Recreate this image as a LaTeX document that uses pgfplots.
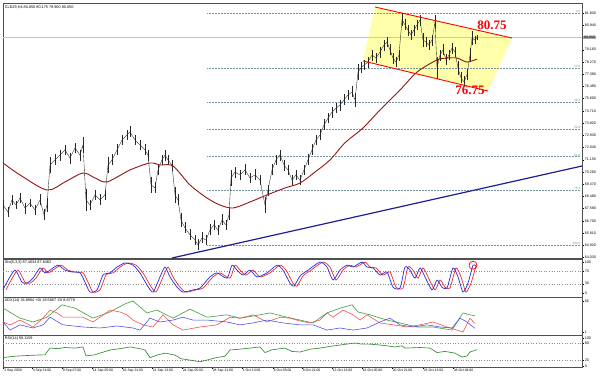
\documentclass[border=0pt]{standalone}
\usepackage{fontspec}
\setmainfont{Liberation Sans}
\newfontfamily\serifb{Liberation Serif}
\usepackage{pgfplots}
\usepackage{pgfplotstable}
\pgfplotsset{compat=1.18}
\definecolor{chyel}{RGB}{255,255,170}
\definecolor{fibc}{RGB}{120,150,160}
\definecolor{tlblue}{RGB}{30,30,150}
\definecolor{mared}{RGB}{150,20,20}
\definecolor{stblue}{RGB}{40,40,230}
\definecolor{stred}{RGB}{240,40,40}
\definecolor{adxg}{RGB}{60,160,60}
\definecolor{rsig}{RGB}{50,140,50}
\definecolor{frm}{RGB}{80,80,80}
\newcommand\tf{\fontsize{3.8}{4.2}\selectfont}
\newcommand\lf{\fontsize{3.6}{4}\selectfont}
\newcommand\ff{\fontsize{3.2}{3.5}\selectfont}
\tikzset{fibl/.style={fibc, densely dotted, line width=0.5pt},
  fibt/.style={anchor=south east, font=\ff, text=fibc, inner sep=0.4pt}}
\pgfplotsset{mt/.style={scale only axis, width=579pt, xmin=3, xmax=582,
  axis line style={draw=frm, line width=0.7pt}, xtick=\empty,
  ytick pos=right, yticklabel pos=right, tick align=outside,
  major tick length=1.8pt, tick style={black, line width=0.3pt},
  yticklabel style={font=\lf, inner sep=0.8pt, anchor=west},
  clip=false, anchor=south west}}
\pgfplotstableread[row sep=\\]{
x c e\\
3 67.85 0.35\\ 8 67.34 0.4\\ 12 68.22 0.35\\ 16 67.85 0.3\\ 20 68.36 0.35\\
25 67.63 0.4\\ 30 67.99 0.3\\ 35 67.49 0.35\\ 40 68.22 0.4\\ 44 67.13 0.4\\
47 67.85 0.5\\ 50 70.76 0.6\\ 55 71.13 0.4\\ 60 71.49 0.4\\ 65 71.86 0.35\\
70 71.27 0.4\\ 75 72.00 0.35\\ 80 71.49 0.4\\ 83 72.22 0.6\\ 86 68.22 0.8\\
90 67.85 0.4\\ 95 68.58 0.35\\ 100 68.22 0.4\\ 105 68.58 0.35\\ 108 70.76 0.6\\
112 71.13 0.4\\ 117 71.86 0.4\\ 122 72.58 0.35\\ 127 72.95 0.35\\ 130 73.17 0.4\\
135 72.58 0.35\\ 140 72.22 0.35\\ 145 71.86 0.4\\ 148 71.49 0.4\\ 151 69.31 0.6\\
155 69.09 0.4\\ 158 70.40 0.4\\ 162 71.13 0.35\\ 165 71.49 0.4\\ 168 71.13 0.35\\
172 70.76 0.4\\ 175 68.58 0.6\\ 178 68.22 0.4\\ 181 66.76 0.5\\ 185 66.18 0.4\\
190 65.67 0.4\\ 195 65.30 0.35\\ 198 64.94 0.4\\ 202 65.45 0.4\\ 206 65.30 0.35\\
210 66.03 0.4\\ 214 66.40 0.35\\ 218 66.03 0.35\\ 222 66.76 0.4\\ 226 66.40 0.35\\
229 67.13 0.4\\ 231 69.82 0.6\\ 235 70.25 0.4\\ 240 70.04 0.35\\ 245 70.40 0.4\\
250 69.82 0.35\\ 255 70.04 0.4\\ 260 69.67 0.4\\ 265 67.85 0.6\\ 268 68.94 0.4\\
272 70.40 0.4\\ 276 71.13 0.35\\ 280 71.49 0.4\\ 284 70.76 0.4\\ 288 70.40 0.35\\
292 69.67 0.4\\ 296 70.04 0.35\\ 300 69.67 0.4\\ 304 70.40 0.35\\ 308 71.13 0.4\\
312 71.86 0.4\\ 316 72.58 0.35\\ 320 72.95 0.4\\ 324 73.68 0.4\\ 328 74.18 0.35\\
332 74.62 0.4\\ 336 74.91 0.35\\ 340 75.13 0.4\\ 344 75.50 0.4\\ 348 75.86 0.35\\
352 76.08 0.4\\ 355 75.50 0.5\\ 358 77.53 0.6\\ 361 77.83 0.4\\ 364 78.04 0.35\\
368 78.26 0.4\\ 372 78.77 0.4\\ 376 78.55 0.35\\ 380 78.99 0.4\\ 384 79.50 0.4\\
387 79.72 0.35\\ 390 79.14 0.4\\ 393 78.55 0.4\\ 396 78.26 0.35\\ 399 78.77 0.4\\
402 81.35 0.5\\ 405 80.96 0.4\\ 408 80.59 0.4\\ 411 80.23 0.35\\ 414 80.59 0.4\\
417 80.96 0.35\\ 420 81.32 0.4\\ 423 79.86 0.5\\ 426 79.72 0.4\\ 429 79.50 0.35\\
432 79.86 0.4\\ 435 81.17 0.5\\ 437 77.83 0.8\\ 440 78.77 0.4\\ 443 79.14 0.4\\
446 78.41 0.4\\ 449 78.77 0.35\\ 452 79.28 0.4\\ 455 79.00 0.35\\ 458 77.83 0.5\\
461 77.10 0.4\\ 464 76.81 0.4\\ 467 77.32 0.4\\ 470 78.77 0.5\\ 472 80.01 0.5\\
475 79.86 0.3\\ 477 80.05 0.15\\
}\price
\begin{document}
\begin{tikzpicture}[x=1pt,y=1pt]
\path[use as bounding box] (0,0) rectangle (600,376);
\fill[white] (0,0) rectangle (600,376);
% ---------------- main price panel
\begin{axis}[mt, at={(3pt,118pt)}, height=255pt, ymin=63.99, ymax=82.56,
  ytick={81.83,80.94,79.16,78.27,77.38,76.49,75.60,74.71,73.82,72.93,72.04,71.15,70.26,69.37,68.48,67.59,66.70,65.81,64.92,64.03},
  yticklabels={81.830,80.940,79.160,78.270,77.380,76.490,75.600,74.710,73.820,72.930,72.040,71.150,70.260,69.370,68.480,67.590,66.700,65.810,64.920,64.030}]
\addplot[fill=chyel, draw=none] coordinates {(375,82.27) (512,80.01) (488,76.15) (363,78.34)} -- cycle;
\addplot[black!22, line width=1.6pt] coordinates {(3,80.05) (582,80.05)};
\addplot[fibl] coordinates {(207,81.83) (580,81.83)};
\addplot[fibl] coordinates {(207,77.83) (580,77.83)};
\addplot[fibl] coordinates {(207,75.36) (580,75.36)};
\addplot[fibl] coordinates {(207,73.37) (580,73.37)};
\addplot[fibl] coordinates {(207,71.37) (580,71.37)};
\addplot[fibl] coordinates {(207,68.90) (580,68.90)};
\addplot[fibl] coordinates {(207,64.90) (580,64.90)};
\addplot[tlblue, line width=1.2pt] coordinates {(172,63.99) (582,70.69)};
\addplot[black!85, line width=0.35pt, error bars/.cd, y dir=both, y explicit,
  error bar style={black!85, line width=0.45pt}, error mark=none]
  table[x=x, y=c, y error=e] {\price};
\addplot[mared, line width=0.9pt, smooth] coordinates {(3,70.91) (20,70.04) (47,68.94) (65,69.53) (83,70.18) (95,69.82) (107,69.53) (130,70.40) (150,70.91) (160,70.76) (173,70.69) (190,69.31) (207,68.36) (220,67.85) (233,67.63) (250,68.07) (267,68.58) (285,69.09) (300,69.45) (315,70.25) (330,71.13) (345,72.38) (363,73.46) (380,74.77) (400,76.22) (417,77.53) (437,78.41) (447,78.55) (457,78.55) (467,78.26) (477,78.48)};
\addplot[red, line width=0.9pt] coordinates {(375,82.27) (512,80.01)};
\addplot[red, line width=0.9pt] coordinates {(363,78.34) (488,76.15)};
\node[text=red, font=\serifb\bfseries\fontsize{13}{13}\selectfont, inner sep=0pt] at (axis cs:492,80.96) {80.75};
\node[text=red, font=\serifb\bfseries\fontsize{13}{13}\selectfont, inner sep=0pt] at (axis cs:470,76.20) {76.75};
\node[fibt] at (axis cs:581,81.83) {0.0};
\node[fibt] at (axis cs:581,77.83) {23.6};
\node[fibt] at (axis cs:581,75.36) {38.2};
\node[fibt] at (axis cs:581,73.37) {50.0};
\node[fibt] at (axis cs:581,71.37) {61.8};
\node[fibt] at (axis cs:581,68.90) {76.4};
\node[fibt] at (axis cs:581,64.90) {100.0};
\node[anchor=west, fill=black!35, font=\lf, inner sep=0.6pt, xshift=1.2pt] at (axis cs:582,80.05) {80.050};
\node[anchor=north west, font=\tf, inner sep=0pt] at (rel axis cs:0.003,0.99) {CLEZ9,H4 80.050 80.175 79.900 80.050};
\end{axis}
% ---------------- stochastic
\begin{axis}[mt, at={(3pt,79pt)}, height=38pt, ymin=-13, ymax=110,
  ytick={0,30,70,100}, yticklabels={0,30,70,100}]
\addplot[black!45, dash pattern=on 1pt off 1.6pt, line width=0.4pt] coordinates {(3,70) (582,70)};
\addplot[black!45, dash pattern=on 1pt off 1.6pt, line width=0.4pt] coordinates {(3,30) (582,30)};
\addplot[stred, line width=0.7pt, smooth, tension=0.4] coordinates {(6,10) (10,35) (18,74) (25,35) (30,32) (36,48) (43,81) (48,65) (53,74) (61,90) (68,74) (75,68) (83,65) (88,35) (93,3) (100,10) (106,58) (113,65) (120,84) (128,97) (136,90) (143,65) (150,26) (156,3) (163,52) (168,84) (173,52) (180,19) (186,3) (196,10) (203,16) (213,52) (220,65) (230,48) (235,90) (240,74) (246,58) (253,74) (260,52) (270,65) (280,90) (286,74) (293,32) (297,22) (303,55) (311,74) (323,100) (330,84) (336,42) (343,74) (350,90) (356,84) (365,100) (370,84) (376,81) (383,58) (390,68) (396,19) (403,16) (408,84) (413,74) (418,48) (423,81) (428,52) (435,10) (440,42) (445,19) (450,16) (456,81) (461,52) (466,3) (471,32) (476,87.6)};
\addplot[stblue, line width=0.7pt, smooth, tension=0.4] coordinates {(3,10) (7,35) (15,74) (22,35) (27,32) (33,48) (40,81) (45,65) (50,74) (58,90) (65,74) (72,68) (80,65) (85,35) (90,3) (97,10) (103,58) (110,65) (117,84) (125,97) (133,90) (140,65) (147,26) (153,3) (160,52) (165,84) (170,52) (177,19) (183,3) (193,10) (200,16) (210,52) (217,65) (227,48) (232,90) (237,74) (243,58) (250,74) (257,52) (267,65) (277,90) (283,74) (290,32) (294,22) (300,55) (308,74) (320,100) (327,84) (333,42) (340,74) (347,90) (353,84) (362,100) (367,84) (373,81) (380,58) (387,68) (393,19) (400,16) (405,84) (410,74) (415,48) (420,81) (425,52) (432,10) (437,42) (442,19) (447,16) (453,81) (458,52) (463,3) (468,32) (473,90) (476,87.4)};
\addplot[red, only marks, mark=o, mark size=4pt, line width=0.7pt] coordinates {(473,90)};
\node[anchor=north west, font=\tf, inner sep=0pt] at (rel axis cs:0.003,0.96) {Sto(5,3,3) 87.4034 87.6482};
\end{axis}
% ---------------- ADX
\begin{axis}[mt, at={(3pt,41pt)}, height=38pt, ymin=-5.3, ymax=74.4,
  ytick={1,66}, yticklabels={1,66}]
\addplot[adxg, line width=0.6pt] coordinates {(3,51) (20,30) (33,22) (47,32) (62,58) (75,51) (93,30) (110,43) (125,60) (133,66) (147,41) (157,47) (173,30) (190,49) (207,32) (227,37) (240,30) (260,37) (270,41) (287,32) (300,26) (313,20) (327,41) (340,51) (352,58) (358,43) (370,37) (387,26) (400,20) (417,11.5) (433,11.5) (452,5) (463,41) (470,37) (475,34.9)};
\addplot[stred!85, line width=0.55pt] coordinates {(3,22) (10,16) (20,26) (33,11.5) (43,30) (50,47) (57,41) (63,32) (83,32) (93,22) (100,32) (110,47) (120,43) (127,37) (133,26) (143,16) (153,11.5) (163,37) (173,16) (183,5) (200,11.5) (217,16) (230,32) (240,30) (253,37) (267,22) (280,32) (290,30) (300,24) (310,20) (320,26) (327,41) (333,32) (343,47) (353,37) (360,26) (367,37) (380,20) (393,16) (407,11.5) (420,16) (433,22) (447,11.5) (463,1) (470,30) (475,18.6)};
\addplot[stblue!85, line width=0.55pt] coordinates {(3,22) (10,5) (20,16) (33,9.4) (43,16) (50,32) (63,16) (83,11.5) (100,9.4) (117,13.6) (133,9.4) (140,5) (150,30) (160,22) (173,26) (183,32) (193,26) (207,26) (227,22) (240,16) (253,20) (267,26) (283,20) (300,16) (313,16) (327,5) (340,9.4) (353,5) (367,9.4) (380,22) (390,30) (400,16) (413,11.5) (427,16) (440,11.5) (452,9.4) (460,30) (467,22) (475,8.7)};
\node[anchor=north west, font=\tf, inner sep=0pt] at (rel axis cs:0.003,0.96) {ADX(14) 34.8904 +DI 18.5687 -DI 8.6778};
\end{axis}
% ---------------- RSI
\begin{axis}[mt, at={(3pt,9pt)}, height=32pt, ymin=-3.6, ymax=110.7,
  ytick={0,20,80,100}, yticklabels={0,20,80,100},
  xtick={3.5,32,62,92,122,152,182,212,242,273,302,332,362,392,423,453},
  xticklabels={2 Sep 2009,4 Sep 21:00,9 Sep 07:00,14 Sep 05:00,16 Sep 21:00,21 Sep 13:00,24 Sep 05:00,28 Sep 21:00,1 Oct 13:00,6 Oct 05:00,8 Oct 21:00,13 Oct 13:00,16 Oct 05:00,20 Oct 21:00,23 Oct 13:00,28 Oct 04:00},
  xtick pos=bottom, xticklabel style={font=\fontsize{3.4}{4}\selectfont, anchor=north west, inner sep=0.6pt}]
\addplot[black!45, dash pattern=on 1pt off 1.6pt, line width=0.4pt] coordinates {(3,80) (582,80)};
\addplot[black!45, dash pattern=on 1pt off 1.6pt, line width=0.4pt] coordinates {(3,20) (582,20)};
\addplot[rsig, line width=0.65pt] coordinates {(3,30) (15,35) (30,38) (45,40) (50,64) (58,62) (65,66) (75,64) (83,68) (86,36) (95,40) (100,46) (110,57) (120,62) (130,68) (140,62) (145,57) (150,30) (158,40) (165,46) (175,39) (181,26) (190,21) (200,15) (210,24) (215,29) (225,35) (230,57) (245,62) (260,68) (265,48) (272,58) (285,64) (292,52) (300,50) (310,60) (320,64) (330,70) (340,75) (355,82) (362,78) (370,78) (380,75) (387,72) (395,68) (402,72) (405,64) (420,66) (430,64) (437,48) (445,52) (455,46) (462,32) (467,36) (470,50) (477,58.1)};
\node[anchor=north west, font=\tf, inner sep=0pt] at (rel axis cs:0.003,0.95) {RSI(14) 58.1159};
\end{axis}
\end{tikzpicture}
\end{document}
